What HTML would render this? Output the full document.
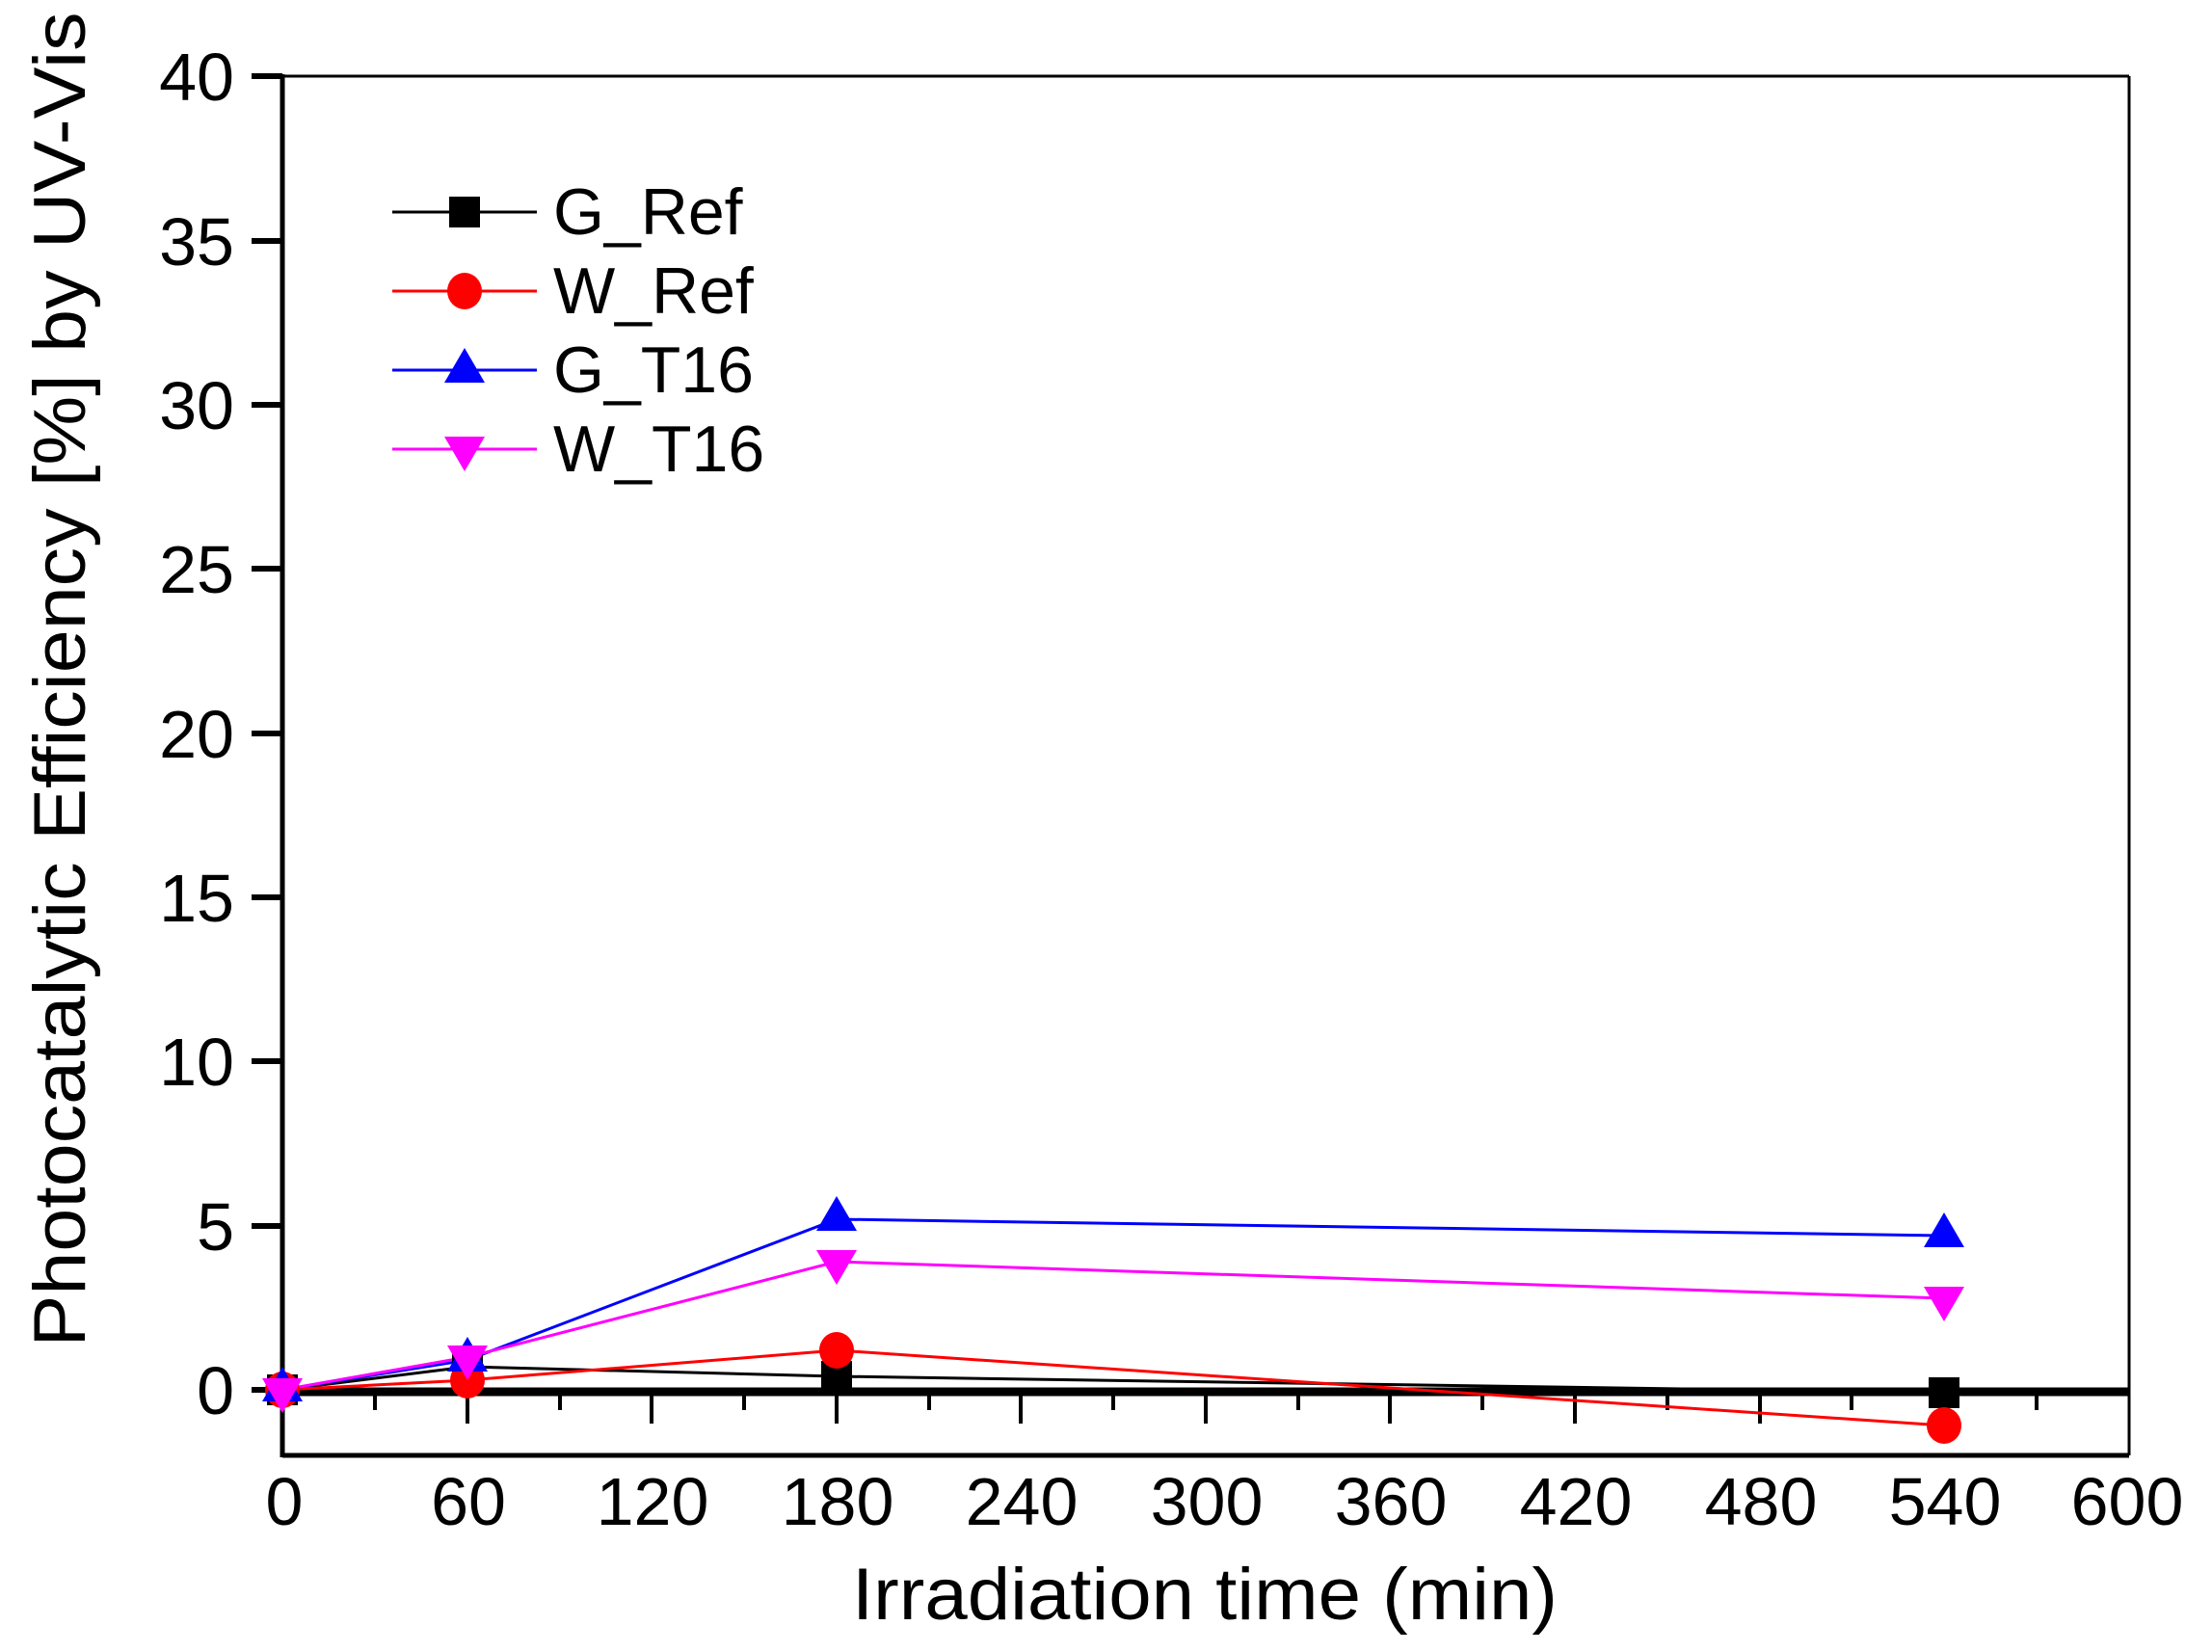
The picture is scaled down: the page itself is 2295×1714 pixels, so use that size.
<!DOCTYPE html>
<html><head><meta charset="utf-8"><style>body{margin:0;background:#fff}svg{display:block}</style></head><body>
<svg width="2295" height="1714" viewBox="0 0 2295 1714" xmlns="http://www.w3.org/2000/svg" font-family="Liberation Sans, Arial, sans-serif">
<rect width="2295" height="1714" fill="#fff"/>
<line x1="293" y1="79" x2="2209" y2="79" stroke="#000" stroke-width="3"/>
<line x1="2209" y1="79" x2="2209" y2="1510" stroke="#000" stroke-width="3"/>
<line x1="293" y1="1510" x2="2209" y2="1510" stroke="#000" stroke-width="5"/>
<line x1="293" y1="77" x2="293" y2="1512" stroke="#000" stroke-width="5"/>
<g stroke="#000" stroke-width="6">
<line x1="261" y1="79" x2="293" y2="79"/><line x1="261" y1="250" x2="293" y2="250"/>
<line x1="261" y1="420" x2="293" y2="420"/><line x1="261" y1="590" x2="293" y2="590"/>
<line x1="261" y1="761" x2="293" y2="761"/><line x1="261" y1="931" x2="293" y2="931"/>
<line x1="261" y1="1101" x2="293" y2="1101"/><line x1="261" y1="1272" x2="293" y2="1272"/>
<line x1="261" y1="1442" x2="293" y2="1442"/>
</g>
<g font-size="70" text-anchor="end">
<text x="243" y="104">40</text><text x="243" y="275">35</text><text x="243" y="445">30</text>
<text x="243" y="615">25</text><text x="243" y="786">20</text><text x="243" y="956">15</text>
<text x="243" y="1126">10</text><text x="243" y="1297">5</text><text x="243" y="1467">0</text>
</g>
<line x1="293" y1="1444" x2="2209" y2="1444" stroke="#000" stroke-width="9"/>
<g stroke="#000" stroke-width="4">
<line x1="389" y1="1444" x2="389" y2="1463"/><line x1="485" y1="1444" x2="485" y2="1477"/>
<line x1="581" y1="1444" x2="581" y2="1463"/><line x1="676" y1="1444" x2="676" y2="1477"/>
<line x1="772" y1="1444" x2="772" y2="1463"/><line x1="868" y1="1444" x2="868" y2="1477"/>
<line x1="964" y1="1444" x2="964" y2="1463"/><line x1="1059" y1="1444" x2="1059" y2="1477"/>
<line x1="1155" y1="1444" x2="1155" y2="1463"/><line x1="1251" y1="1444" x2="1251" y2="1477"/>
<line x1="1347" y1="1444" x2="1347" y2="1463"/><line x1="1442" y1="1444" x2="1442" y2="1477"/>
<line x1="1538" y1="1444" x2="1538" y2="1463"/><line x1="1634" y1="1444" x2="1634" y2="1477"/>
<line x1="1730" y1="1444" x2="1730" y2="1463"/><line x1="1826" y1="1444" x2="1826" y2="1477"/>
<line x1="1921" y1="1444" x2="1921" y2="1463"/><line x1="2017" y1="1444" x2="2017" y2="1477"/>
<line x1="2113" y1="1444" x2="2113" y2="1463"/>
</g>
<g font-size="70" text-anchor="middle">
<text x="295" y="1582">0</text><text x="486" y="1582">60</text><text x="677" y="1582">120</text>
<text x="869" y="1582">180</text><text x="1060" y="1582">240</text><text x="1252" y="1582">300</text>
<text x="1443" y="1582">360</text><text x="1635" y="1582">420</text><text x="1827" y="1582">480</text>
<text x="2018" y="1582">540</text><text x="2207" y="1582">600</text>
</g>
<text x="1250" y="1680" font-size="76" text-anchor="middle" textLength="732" lengthAdjust="spacingAndGlyphs">Irradiation time (min)</text>
<text transform="translate(88,705) rotate(-90)" font-size="76" text-anchor="middle" textLength="1385" lengthAdjust="spacingAndGlyphs">Photocatalytic Efficiency [%] by UV-Vis</text>
<polyline points="293,1442 485,1418 868,1428 2017,1445" fill="none" stroke="#000" stroke-width="3"/>
<polyline points="293,1442 485,1432 868,1401 2017,1479" fill="none" stroke="#f00" stroke-width="3"/>
<polyline points="293,1442 485,1411 868,1265 2017,1282" fill="none" stroke="#00f" stroke-width="3"/>
<polyline points="293,1442 485,1408 868,1309 2017,1347" fill="none" stroke="#f0f" stroke-width="3"/>
<g fill="#000"><rect x="277" y="1426" width="32" height="32"/><rect x="469" y="1402" width="32" height="32"/><rect x="852" y="1412" width="32" height="32"/><rect x="2001" y="1429" width="32" height="32"/></g>
<g fill="#f00"><ellipse cx="293" cy="1442" rx="18" ry="19"/><ellipse cx="485" cy="1432" rx="18" ry="19"/><ellipse cx="868" cy="1401" rx="18" ry="19"/><ellipse cx="2017" cy="1479" rx="18" ry="19"/></g>
<g fill="#00f"><polygon points="293,1418 272,1454 314,1454"/><polygon points="485,1387 464,1423 506,1423"/><polygon points="868,1241 847,1277 889,1277"/><polygon points="2017,1258 1996,1294 2038,1294"/></g>
<g fill="#f0f"><polygon points="293,1466 272,1430 314,1430"/><polygon points="485,1432 464,1396 506,1396"/><polygon points="868,1333 847,1297 889,1297"/><polygon points="2017,1371 1996,1335 2038,1335"/></g>
<line x1="407" y1="220" x2="557" y2="220" stroke="#000" stroke-width="3"/><rect x="466" y="204" width="32" height="32" fill="#000"/>
<line x1="407" y1="302" x2="557" y2="302" stroke="#f00" stroke-width="3"/><ellipse cx="482" cy="302" rx="18" ry="19" fill="#f00"/>
<line x1="407" y1="384" x2="557" y2="384" stroke="#00f" stroke-width="3"/><polygon points="482,361 461,397 503,397" fill="#00f"/>
<line x1="407" y1="466" x2="557" y2="466" stroke="#f0f" stroke-width="3"/><polygon points="482,489 461,453 503,453" fill="#f0f"/>
<g font-size="68">
<text x="574" y="243">G_Ref</text><text x="574" y="325">W_Ref</text><text x="574" y="407">G_T16</text><text x="574" y="489">W_T16</text>
</g>
</svg>
</body></html>
